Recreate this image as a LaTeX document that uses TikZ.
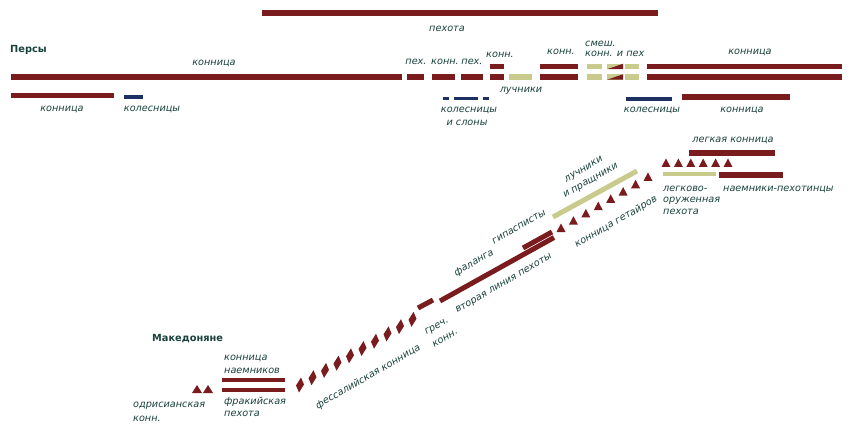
\documentclass[tikz,border=0pt]{standalone}
\usepackage{fontspec}
\setmainfont{DejaVu Sans}
\definecolor{brn}{RGB}{122,28,30}
\definecolor{lgr}{RGB}{200,203,140}
\definecolor{blu}{RGB}{28,48,98}
\definecolor{txt}{RGB}{25,66,60}
\newcommand\lblf{\fontsize{9.7}{11}\selectfont\itshape}
\newcommand\bldf{\fontsize{9.8}{11}\selectfont\bfseries}
\tikzset{
  lbl/.style={font=\lblf, text=txt, inner sep=0pt},
  ttl/.style={font=\bldf, text=txt, inner sep=0pt, anchor=west},
  bar/.style={line width=5.5pt, draw=brn},
  gbar/.style={line width=5.5pt, draw=lgr},
  bbar/.style={line width=3.5pt, draw=blu},
  rot/.style={rotate=30}
}
\begin{document}
\begin{tikzpicture}[x=1pt,y=-1pt]
\useasboundingbox (0,0) rectangle (852,425);
\fill[white] (0,0) rectangle (852,425);
% ---------- Persians ----------
\draw[bar] (262,13) -- (658,13);
\node[lbl] (lpeh) at (447,29) {пехота};
\node[ttl] (persy) at (10,50) {Персы};
\node[lbl] (lkon1) at (214,63) {конница};
% lower row
\draw[bar] (11,77) -- (402,77);
\draw[bar] (407,77) -- (424,77);
\draw[bar] (432,77) -- (455,77);
\draw[bar] (461,77) -- (483,77);
\draw[bar] (490,77) -- (504,77);
\draw[gbar] (509,77) -- (532,77);
\draw[bar] (540,77) -- (578,77);
\draw[gbar] (587,77) -- (602,77);
\draw[gbar] (625,77) -- (639,77);
\draw[bar] (647,77) -- (842,77);
% upper row
\draw[bar] (490,66.5) -- (504,66.5);
\draw[bar] (540,66.5) -- (578,66.5);
\draw[gbar] (587,66.5) -- (602,66.5);
\draw[gbar] (625,66.5) -- (639,66.5);
\draw[bar] (647,66.5) -- (842,66.5);
% mixed blocks
\foreach \yy in {66.5,77}{
  \fill[lgr] (607,\yy-2.75) rectangle (623,\yy+2.75);
  \fill[brn] (607,\yy+2.75) -- (623,\yy+2.75) -- (623,\yy-2.75) -- cycle;
}
% labels above rows
\node[lbl] (lp1) at (416,61.5) {пех.};
\node[lbl] (lk1) at (445,61.5) {конн.};
\node[lbl] (lp2) at (472,61.5) {пех.};
\node[lbl] (lk2) at (500,55) {конн.};
\node[lbl] (lk3) at (561,52) {конн.};
\node[lbl,anchor=west] (lsm) at (585,43.5) {смеш.};
\node[lbl,anchor=west] (lsm2) at (585,54) {конн. и пех};
\node[lbl] (lkon2) at (750,52) {конница};
% second line
\draw[bar] (11,95.5) -- (114,95.5);
\draw[bbar] (124,97) -- (143,97);
\draw[bbar] (443,98.3) -- (449,98.3);
\draw[bbar] (454,98.3) -- (478,98.3);
\draw[bbar] (483,98.3) -- (489,98.3);
\draw[bbar,line width=4pt] (626,99) -- (672,99);
\draw[bar] (682,97) -- (790,97);
\node[lbl] (lkon3) at (62,109) {конница};
\node[lbl] (lkol1) at (152,109) {колесницы};
\node[lbl] (lluch) at (521,91) {лучники};
\node[lbl] (lkol2) at (469,110) {колесницы};
\node[lbl] (lslon) at (467,123) {и слоны};
\node[lbl] (lkol3) at (652,110) {колесницы};
\node[lbl] (lkon4) at (742,110) {конница};
% ---------- Macedonians ----------
\node[ttl] (mak) at (152,339) {Македоняне};
\node[lbl,anchor=west] (lkn1) at (224,358) {конница};
\node[lbl,anchor=west] (lkn2) at (224,371) {наемников};
\draw[bar,line width=4.5pt] (222,380) -- (285,380);
\draw[bar,line width=4.5pt] (222,390) -- (285,390);
\node[lbl,anchor=west] (lfr1) at (224,402) {фракийская};
\node[lbl,anchor=west] (lfr2) at (224,414) {пехота};
\foreach \xx in {197,208}
  \fill[brn] (\xx,389.5) ++(-5,3.5) -- ++(10,0) -- ++(-5,-8) -- cycle;
\node[lbl,anchor=west] (lod1) at (133,406) {одрисианская};
\node[lbl,anchor=west] (lod2) at (133,419) {конн.};
% thessalian diamonds
\foreach \i in {0,...,9}
  \fill[brn] ({300+12.5*\i},{385-7.3*\i}) ++(1,-7.5) -- ++(3,7) -- ++(-5,8) -- ++(-3,-7) -- cycle;
\node[lbl,rot] (lfes) at (368,377) {фессалийская конница};
% greek cavalry
\draw[bar,line width=5pt] (418,308) -- (433,300);
\node[lbl,rot] (lgr1) at (437,327) {греч.};
\node[lbl,rot] (lgr2) at (445,338) {конн.};
% phalanx
\draw[bar,line width=5pt] (440,301) -- (554,237.5);
\draw[bar,line width=5pt] (523,248) -- (552,232);
\node[lbl,rot] (lfal) at (474,263) {фаланга};
\node[lbl,rot] (lvt) at (504,284) {вторая линия пехоты};
\node[lbl,rot] (lgip) at (519,227) {гипасписты};
% archers and slingers
\draw[gbar,line width=5pt] (553,217) -- (637,171);
\node[lbl,rot] (lla1) at (584,170) {лучники};
\node[lbl,rot] (lla2) at (591,181) {и пращники};
% companions
\foreach \i in {0,...,7}
  \fill[brn] ({561+12.43*\i},{228-7.29*\i}) ++(-4.5,4) -- ++(9,0) -- ++(-4.5,-8.5) -- cycle;
\node[lbl,rot] (lget) at (616,222) {конница гетайров};
% right group
\node[lbl] (llk) at (733,140) {легкая конница};
\draw[bar] (689,153) -- (775,153);
\foreach \i in {0,...,5}
  \fill[brn] ({666+12.4*\i},163) ++(-4.5,4) -- ++(9,0) -- ++(-4.5,-8.5) -- cycle;
\draw[gbar,line width=4.5pt] (663,174) -- (716,174);
\draw[bar,line width=6pt] (719,175) -- (783,175);
\node[lbl,anchor=west] (llo1) at (663,189) {легково-};
\node[lbl,anchor=west] (llo2) at (663,200.5) {оруженная};
\node[lbl,anchor=west] (llo3) at (663,212) {пехота};
\node[lbl,anchor=west] (lnp) at (723,189) {наемники-пехотинцы};
\end{tikzpicture}
\end{document}
